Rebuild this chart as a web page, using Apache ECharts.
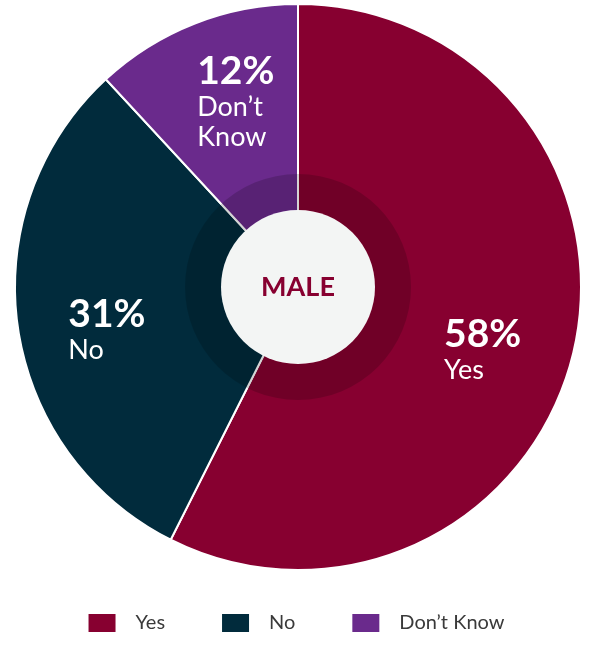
<!DOCTYPE html>
<html>
<head>
<meta charset="utf-8">
<script src="https://cdn.jsdelivr.net/npm/echarts@6/dist/echarts.min.js"></script>
<style>
  html, body { margin: 0; padding: 0; background: #ffffff; }
  #chart { width: 591px; height: 645px; }
</style>
</head>
<body>
<div id="chart"></div>
<script>
// Survey answers, male respondents (percent)
const categories = ['Yes', 'No', 'Don’t Know'];
const values = [58, 31, 12];
const colors = ['#870030', '#012b3c', '#6a2a8c'];
const centerTitle = 'MALE';

const fontFamily = 'Lato, "Open Sans", sans-serif';
const center = [298, 287];
// small per-slice nudges for the value labels, in pixels
const labelNudge = [[-8, 17], [5, 15], [10, -1]];

const sliceData = categories.map((name, i) => ({
  name: name,
  value: values[i],
  itemStyle: { color: colors[i] }
}));

const chart = echarts.init(document.getElementById('chart'));
chart.setOption({
  backgroundColor: '#ffffff',
  animation: false,
  legend: {
    data: categories,
    bottom: 6,
    left: 'center',
    itemWidth: 29,
    itemHeight: 20,
    itemGap: 55,
    icon: 'rect',
    selectedMode: false,
    textStyle: {
      fontFamily: fontFamily,
      fontSize: 20,
      color: '#3a3a3a',
      padding: [0, 0, 0, 14]
    }
  },
  series: [
    {
      // main slices
      type: 'pie',
      center: center,
      radius: [0, 283],
      startAngle: 90,
      clockwise: true,
      silent: true,
      label: { show: false },
      labelLine: { show: false },
      itemStyle: { borderColor: '#ffffff', borderWidth: 2 },
      emphasis: { disabled: true },
      data: sliceData
    },
    {
      // translucent darker ring around the hub
      type: 'pie',
      center: center,
      radius: [77, 113],
      silent: true,
      label: { show: false },
      labelLine: { show: false },
      emphasis: { disabled: true },
      legendHoverLink: false,
      itemStyle: { color: 'rgba(0,0,0,0.17)' },
      data: [{ name: 'ring', value: 1 }]
    },
    {
      // hub with title
      type: 'pie',
      center: center,
      radius: [0, 77],
      silent: true,
      labelLine: { show: false },
      emphasis: { disabled: true },
      itemStyle: { color: '#f3f5f4' },
      label: {
        show: true,
        position: 'center',
        formatter: centerTitle,
        fontFamily: fontFamily,
        fontWeight: 'bold',
        fontSize: 27,
        color: '#870030',
        padding: [24, 0, 0, 0]
      },
      data: [{ name: 'hub', value: 1 }]
    },
    {
      // value labels placed over the slices
      type: 'pie',
      center: center,
      radius: [107, 283],
      startAngle: 90,
      clockwise: true,
      silent: true,
      labelLine: { show: false },
      emphasis: { disabled: true },
      itemStyle: { color: 'rgba(0,0,0,0)' },
      label: {
        show: true,
        position: 'inside',
        align: 'left',
        formatter: function (p) {
          return '{p|' + p.value + '%}\n{n|' + p.name.split(' ').join('\n') + '}';
        },
        rich: {
          p: { fontFamily: fontFamily, fontWeight: 'bold', fontSize: 39, lineHeight: 42, color: '#ffffff', align: 'left' },
          n: { fontFamily: fontFamily, fontSize: 27, lineHeight: 30, color: '#ffffff', align: 'left' }
        }
      },
      data: categories.map((name, i) => ({
        name: name,
        value: values[i],
        label: { offset: labelNudge[i] }
      }))
    }
  ]
});
</script>
</body>
</html>
